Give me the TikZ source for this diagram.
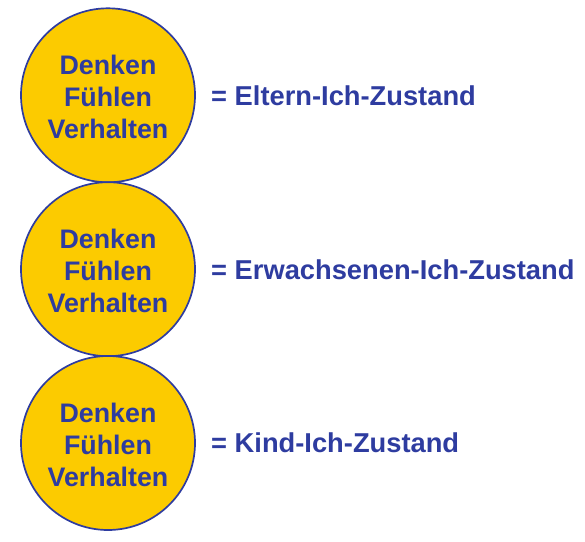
\documentclass[tikz,border=0pt]{standalone}
\usepackage{fontspec}
\setmainfont{Liberation Sans}
\definecolor{egoyellow}{RGB}{252,203,0}
\definecolor{egoblue}{RGB}{46,60,160}
\begin{document}
\begin{tikzpicture}[x=1pt,y=1pt,
  ego/.style={circle, draw=egoblue, line width=1.7pt, fill=egoyellow, minimum size=174pt, inner sep=0pt},
  egotext/.style={inner sep=0pt, align=center, text=egoblue, font=\fontsize{26.8}{32}\selectfont\bfseries},
  lbl/.style={anchor=base west, inner sep=0pt, text=egoblue, font=\fontsize{27.3}{30}\selectfont\bfseries}]
\useasboundingbox (0,0) rectangle (585,541);
\node[ego] (c1) at (108,445.7) {};
\node[ego] (c2) at (108,271.8) {};
\node[ego] (c3) at (108,98) {};
\node[egotext] (t1) at ([yshift=-1.5pt]c1.center) {Denken\\Fühlen\\Verhalten};
\node[egotext] (t2) at ([yshift=-1.5pt]c2.center) {Denken\\Fühlen\\Verhalten};
\node[egotext] (t3) at ([yshift=-1.5pt]c3.center) {Denken\\Fühlen\\Verhalten};
\node[lbl] (l1) at (211,435) {= Eltern-Ich-Zustand};
\node[lbl] (l2) at (211,261.5) {= Erwachsenen-Ich-Zustand};
\node[lbl] (l3) at (211,89) {= Kind-Ich-Zustand};
\end{tikzpicture}
\end{document}
